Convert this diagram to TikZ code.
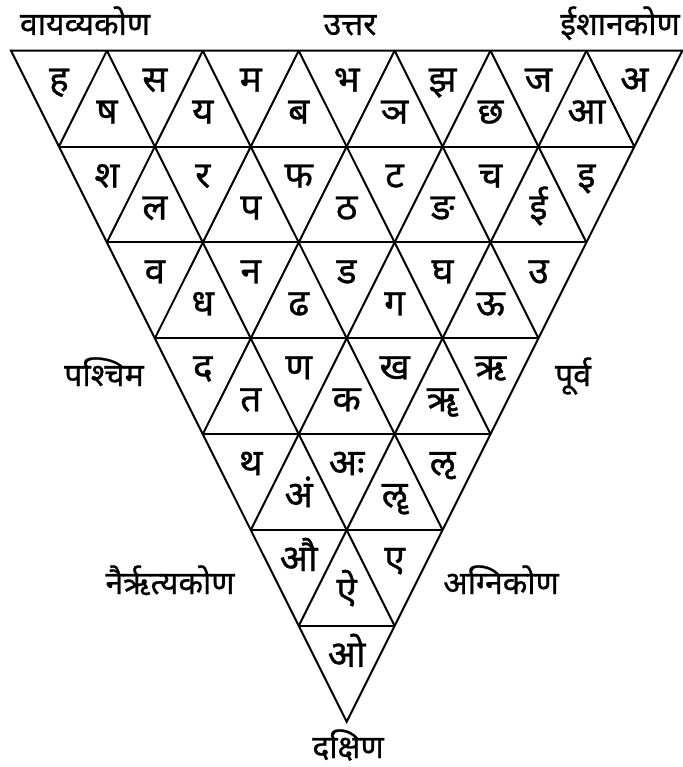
\documentclass[tikz,border=0pt]{standalone}
\usepackage{fontspec}
\newfontfamily\deva[Script=Devanagari,FakeBold=0.8]{Noto Sans}
\begin{document}
\begin{tikzpicture}[x=1pt,y=-1pt,
  gridline/.style={line width=2pt,line join=miter,line cap=butt},
  cell/.style={font=\deva\fontsize{37}{40}\selectfont,inner sep=0pt,anchor=base},
  dirlabel/.style={font=\deva\fontsize{32}{35}\selectfont,inner sep=0pt,anchor=base}]
\useasboundingbox (0,0) rectangle (682,767);
\def\xo{11}\def\yo{50.7}\def\bw{95.9}\def\rh{95.86}
% lattice points
\foreach \r in {0,...,7}{
  \pgfmathtruncatemacro{\n}{7-\r}
  \foreach \k in {0,...,\n}{
    \coordinate (v-\r-\k) at ({\xo+\r*\bw/2+\k*\bw},{\yo+\r*\rh});
  }
}
% outline
\draw[gridline] (v-0-0) -- (v-0-7) -- (v-7-0) -- cycle;
% horizontal lines
\foreach \r in {1,...,6}{
  \pgfmathtruncatemacro{\n}{7-\r}
  \draw[gridline] (v-\r-0) -- (v-\r-\n);
}
% diagonals
\foreach \k in {1,...,6}{
  \pgfmathtruncatemacro{\m}{7-\k}
  \draw[gridline] (v-0-\k) -- (v-\m-\k);
  \draw[gridline] (v-0-\k) -- (v-\k-0);
}
% downward-triangle letters
\foreach \r/\lst in {0/{ह,स,म,भ,झ,ज,अ},1/{श,र,फ,ट,च,इ},2/{व,न,ड,घ,उ},3/{द,ण,ख,ऋ},4/{थ,अः,ऌ},5/{औ,ए},6/{ओ}}{
  \foreach \t [count=\k from 0] in \lst{
    \node[cell] (d-\r-\k) at ({\xo+\r*\bw/2+\k*\bw+\bw/2},{\yo+\r*\rh+41}) {\t};
  }
}
% upward-triangle letters
\foreach \r/\lst in {0/{ष,य,ब,ञ,छ,आ},1/{ल,प,ठ,ङ,ई},2/{ध,ढ,ग,ऊ},3/{त,क,ॠ},4/{अं,ॡ},5/{ऐ}}{
  \foreach \t [count=\k from 0] in \lst{
    \node[cell] (u-\r-\k) at ({\xo+\r*\bw/2+(\k+1)*\bw},{\yo+\r*\rh+73}) {\t};
  }
}
% direction labels
\node[dirlabel] (nw) at (85,35) {वायव्यकोण};
\node[dirlabel] (n) at (350,35) {उत्तर};
\node[dirlabel] (ne) at (620,35) {ईशानकोण};
\node[dirlabel] (w) at (104,386) {पश्चिम};
\node[dirlabel] (e) at (573,386) {पूर्व};
\node[dirlabel] (sw) at (170,594) {नैर्ऋत्यकोण};
\node[dirlabel] (se) at (501,594) {अग्निकोण};
\node[dirlabel] (s) at (348,758) {दक्षिण};
\end{tikzpicture}
\end{document}
